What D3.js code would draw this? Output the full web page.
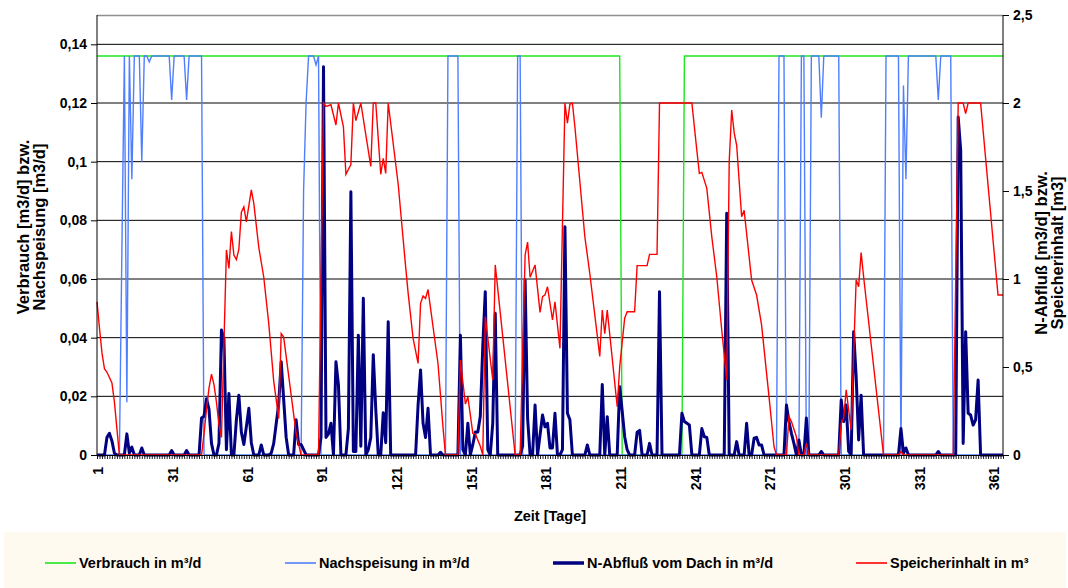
<!DOCTYPE html>
<html>
<head>
<meta charset="utf-8">
<script src="https://cdn.jsdelivr.net/npm/d3@7"></script>
<style>
  html, body { margin: 0; padding: 0; background: #ffffff; }
  svg { display: block; font-family: "Liberation Sans", Arial, sans-serif; font-weight: bold; }
</style>
</head>
<body>
<svg id="chart" width="1068" height="588"></svg>
<script>
// ---------- data: [day, value] vertices ----------
const dayCount = 365;
const labelDays = [1, 31, 61, 91, 121, 151, 181, 211, 241, 271, 301, 331, 361];
const leftTicks = [0, 0.02, 0.04, 0.06, 0.08, 0.1, 0.12, 0.14];
const rightTicks = [0, 0.5, 1, 1.5, 2, 2.5];

// Verbrauch in m³/d (left axis)
const verbrauch = [[1,0.136],[211,0.136],[212,0],[236,0],[237,0.136],[365,0.136]];

// Nachspeisung in m³/d (left axis)
const nachspeisung = [[1,0],[10,0],[11,0.07],[12,0.136],[13,0.018],[14,0.136],[15,0.094],[16,0.136],[18,0.136],[19,0.1],[20,0.136],[21,0.136],[22,0.134],[23,0.136],[30,0.136],[31,0.121],[32,0.136],[36,0.136],[37,0.121],[38,0.136],[43,0.136],[44,0],
  [83,0],[84,0.09],[85,0.12],[86,0.136],[88,0.136],[89,0.133],[90,0.136],[91,0],
  [141,0],[142,0.136],[146,0.136],[147,0],[169,0],[170,0.136],[171,0.136],[172,0],
  [274,0],[275,0.136],[277,0.136],[278,0],[283,0],[284,0.136],[285,0.136],[286,0],[287,0],[288,0.136],[291,0.136],[292,0.115],[293,0.136],[299,0.136],[300,0],
  [317,0],[318,0.136],[323,0.136],[324,0],[325,0.126],[326,0.094],[327,0.136],[338,0.136],[339,0.121],[340,0.136],[344,0.136],[345,0],[365,0]];

// N-Abfluß vom Dach in m³/d (right axis)
const abfluss = [[1,0],[4,0],[5,0.1],[6,0.123],[7,0.08],[8,0.01],[9,0],[12,0],[13,0.12],[14,0.01],[15,0.045],[16,0],[18,0],[19,0.04],[20,0],[30,0],[31,0.025],[32,0],[36,0],[37,0.025],[38,0],
  [42,0],[43,0.21],[44,0.22],[45,0.32],[46,0.26],[47,0.066],[48,0],[49,0],[50,0.066],[51,0.71],[52,0.66],[53,0.03],[54,0.35],[55,0],[56,0],[57,0.2],[58,0.34],[59,0.13],[60,0.06],[61,0.16],[62,0.265],[63,0.07],[64,0],[66,0],[67,0.057],[68,0],[70,0],[71,0.01],[72,0.066],[74,0.29],[75,0.53],[77,0.1],[78,0],[80,0],[81,0.2],[82,0.06],[83,0.06],[84,0.03],[85,0],
  [90,0],[91,0.1],[92,2.206],[93,0.1],[94,0.12],[95,0.18],[96,0],[97,0.53],[98,0.4],[99,0],[101,0],[102,0.15],[103,1.496],[104,0.02],[105,0.02],[106,0.68],[107,0.05],[108,0.89],[109,0],[110,0.03],[111,0.1],[112,0.57],[113,0.26],[114,0],[115,0],[116,0.24],[117,0.07],[118,0.757],[119,0],
  [129,0],[130,0.284],[131,0.483],[132,0.18],[133,0.1],[134,0.265],[135,0],[138,0],[139,0.015],[140,0],
  [146,0],[147,0.68],[148,0.03],[149,0],[150,0.18],[151,0],[152,0.06],[153,0.13],[154,0.13],[155,0.22],[156,0.62],[157,0.928],[158,0.03],[159,0],[160,0.18],[161,0.805],[162,0],
  [171,0],[172,0.05],[173,0.994],[174,0.21],[175,0],[176,0],[177,0.284],[178,0],[180,0.227],[181,0.16],[182,0.18],[183,0.04],[184,0.04],[185,0.237],[186,0],[187,0],[188,0.03],[189,1.297],[190,0.237],[191,0.2],[192,0],
  [197,0],[198,0.057],[199,0],[203,0],[204,0.4],[205,0],[206,0.218],[207,0],[210,0],[211,0.388],[212,0.25],[213,0.104],[214,0.03],[215,0],[217,0],[218,0.13],[219,0.14],[220,0],[222,0],[223,0.066],[224,0],[226,0],[227,0.928],[228,0],
  [235,0],[236,0.237],[237,0.19],[238,0.18],[239,0.17],[240,0],[243,0],[244,0.15],[245,0.104],[246,0.1],[247,0],[253,0],[254,1.373],[255,0],[257,0],[258,0.076],[259,0],[261,0],[262,0.18],[263,0],[264,0],[265,0.095],[266,0.1],[267,0.057],[268,0.057],[269,0],
  [277,0],[278,0.284],[279,0.19],[280,0.123],[281,0.066],[282,0],[283,0.085],[284,0],[285,0],[286,0.21],[287,0],[291,0],[292,0.02],[293,0],
  [299,0],[300,0.3125],[301,0.19],[302,0.284],[303,0.02],[304,0],[305,0.7],[306,0.445],[307,0.085],[308,0.34],[309,0],
  [323,0],[324,0.15],[325,0.01],[326,0.04],[327,0],[338,0],[339,0.02],[340,0],
  [346,0],[347,1.92],[348,1.733],[349,0.066],[350,0.7],[351,0.237],[352,0.227],[353,0.17],[354,0.2],[355,0.426],[356,0],[365,0]];

// Speicherinhalt in m³ (right axis)
const speicher = [[1,0.87],[2,0.72],[3,0.58],[4,0.49],[5,0.47],[6,0.44],[7,0.41],[8,0.3],[9,0.15],[10,0],[43,0],[44,0.12],[45,0.26],[46,0.38],[47,0.46],[48,0.4],[49,0.3],[50,0.17],[51,0.1],
  [53,1.165],[54,1.06],[55,1.27],[56,1.136],[57,1.11],[58,1.17],[59,1.38],[60,1.41],[61,1.325],[63,1.506],[64,1.43],[66,1.18],[68,1.01],[70,0.748],[72,0.42],[74,0.208],[75,0.69],[76,0.67],[81,0.123],[83,0],
  [90,0],[91,1.0],[92,2.0],[93,1.98],[95,1.99],[97,1.875],[98,2.0],[100,1.865],[101,1.595],[103,1.65],[104,2.0],[105,1.9],[107,2.0],[111,1.64],[112,2.0],[113,2.0],[115,1.595],[116,1.686],[117,1.6],[118,2.0],
  [122,1.54],[125,1.07],[126,0.92],[128,0.663],[130,0.52],[131,0.862],[132,0.903],[133,0.89],[134,0.94],[138,0.52],[140,0.16],[141,0],
  [146,0],[147,0.54],[149,0.29],[150,0.33],[152,0.123],[153,0.12],[155,0.05],[156,0],[157,0.786],[160,0.426],[161,1.08],[169,0],[171,0],
  [173,1.136],[174,1.21],[175,1.01],[177,1.08],[179,0.81],[180,0.9],[181,0.91],[182,0.956],[184,0.767],[185,0.87],[187,0.606],[189,2.0],[190,1.885],[191,1.994],[192,2.0],[193,1.865],
  [197,1.24],[199,1.03],[203,0.56],[204,0.824],[205,0.69],[206,0.824],[210,0.275],[211,0.5],[213,0.777],[214,0.814],[217,0.814],[218,1.076],[222,1.076],[223,1.14],[226,1.14],[227,2.0],[240,2.0],
  [242,1.73],[243,1.6],[244,1.606],[246,1.515],[248,1.24],[250,1.013],[252,0.71],[254,0.426],[255,1.666],[256,1.96],[257,1.83],[258,1.76],[260,1.354],[261,1.39],[264,0.994],[266,0.909],[268,0.739],[271,0.33],[273,0.047],[274,0],
  [278,0],[279,0.218],[280,0.19],[282,0.104],[283,0],[285,0],[286,0.066],[287,0],[299,0],[300,0.18],[301,0.21],[302,0.37],[304,0.142],[305,0.578],[306,0.994],[307,0.956],[308,1.15],[309,1.013],[317,0],
  [323,0],[324,0.02],[325,0],[345,0],[347,2.0],[349,2.0],[350,1.94],[351,2.0],[356,2.0],[363,0.909],[365,0.909]];

const seriesNames = ["Verbrauch in m³/d", "Nachspeisung in m³/d", "N-Abfluß vom Dach in m³/d", "Speicherinhalt in m³"];

// ---------- drawing ----------
const svg = d3.select("#chart");
const W = 1068, H = 588;
const plot = {left: 97, right: 1003, top: 15, bottom: 455};

svg.append("rect").attr("width", W).attr("height", H).attr("fill", "#ffffff");

const x = d3.scaleLinear().domain([1, dayCount]).range([plot.left, plot.right]);
const yL = d3.scaleLinear().domain([0, 0.15]).range([plot.bottom, plot.top]);
const yR = d3.scaleLinear().domain([0, 2.5]).range([plot.bottom, plot.top]);

const loc = d3.formatLocale({decimal: ",", thousands: ".", grouping: [3], currency: ["", "€"]});
const fmt = loc.format("~g");

// gridlines
svg.append("g").selectAll("line").data(leftTicks.filter(d => d > 0)).join("line")
  .attr("x1", plot.left).attr("x2", plot.right)
  .attr("y1", d => yL(d)).attr("y2", d => yL(d))
  .attr("stroke", "#000").attr("stroke-width", 1);

// plot border (top)
svg.append("line").attr("x1", plot.left).attr("x2", plot.right)
  .attr("y1", plot.top + 0.5).attr("y2", plot.top + 0.5)
  .attr("stroke", "#909090").attr("stroke-width", 1.5);

// series
const lineL = d3.line().x(d => x(d[0])).y(d => yL(d[1]));
const lineR = d3.line().x(d => x(d[0])).y(d => yR(d[1]));

svg.append("path").datum(verbrauch).attr("d", lineL)
  .attr("fill", "none").attr("stroke", "#1ee61e").attr("stroke-width", 1.4);
svg.append("path").datum(nachspeisung).attr("d", lineL)
  .attr("fill", "none").attr("stroke", "#4f7fff").attr("stroke-width", 1.4);
svg.append("path").datum(abfluss).attr("d", lineR)
  .attr("fill", "none").attr("stroke", "#000080").attr("stroke-width", 3).attr("stroke-linejoin", "round");
svg.append("path").datum(speicher).attr("d", lineR)
  .attr("fill", "none").attr("stroke", "#ff0000").attr("stroke-width", 1.4);

// axes
const axL = svg.append("g").attr("transform", `translate(${plot.left},0)`)
  .call(d3.axisLeft(yL).tickValues(leftTicks).tickSize(6).tickSizeOuter(0).tickPadding(4).tickFormat(fmt));
const axR = svg.append("g").attr("transform", `translate(${plot.right},0)`)
  .call(d3.axisRight(yR).tickValues(rightTicks).tickSize(6).tickSizeOuter(0).tickPadding(4).tickFormat(fmt));
const axB = svg.append("g").attr("transform", `translate(0,${plot.bottom})`)
  .call(d3.axisBottom(x).tickValues(d3.range(1, dayCount + 1)).tickSize(4).tickSizeOuter(0).tickFormat(""));

[axL, axR, axB].forEach(a => {
  a.select(".domain").attr("stroke", "#000").attr("stroke-width", 1);
  a.selectAll(".tick line").attr("stroke", "#000");
  a.selectAll("text").attr("font-size", 14).attr("font-weight", "bold").attr("fill", "#000")
    .attr("font-family", '"Liberation Sans", Arial, sans-serif');
});
axB.selectAll(".tick line").attr("stroke-width", 0.9);
axL.select(".domain").attr("d", `M0,${plot.top}V${plot.bottom}`);
axR.select(".domain").attr("d", `M0,${plot.top}V${plot.bottom}`);

// x tick labels (rotated)
svg.append("g").selectAll("text").data(labelDays).join("text")
  .attr("transform", d => `translate(${x(d) + 6.4},467) rotate(-90)`)
  .attr("text-anchor", "end").attr("font-size", 14).attr("fill", "#000")
  .text(d => d);

// axis titles
svg.append("text").attr("x", 550).attr("y", 521).attr("text-anchor", "middle")
  .attr("font-size", 14.5).text("Zeit [Tage]");

const leftTitle = svg.append("g").attr("transform", "translate(0,227)");
leftTitle.append("text").attr("transform", "translate(29,0) rotate(-90)").attr("text-anchor", "middle")
  .attr("font-size", 16.5).text("Verbrauch [m3/d] bzw.");
leftTitle.append("text").attr("transform", "translate(45,0) rotate(-90)").attr("text-anchor", "middle")
  .attr("font-size", 16.5).text("Nachspeisung [m3/d]");

const rightTitle = svg.append("g").attr("transform", "translate(0,253)");
rightTitle.append("text").attr("transform", "translate(1047,0) rotate(-90)").attr("text-anchor", "middle")
  .attr("font-size", 16.5).text("N-Abfluß [m3/d] bzw.");
rightTitle.append("text").attr("transform", "translate(1063,0) rotate(-90)").attr("text-anchor", "middle")
  .attr("font-size", 16.5).text("Speicherinhalt [m3]");

// legend
svg.append("rect").attr("x", 4).attr("y", 532).attr("width", 1062).attr("height", 56).attr("fill", "#fffaf0");
const legendColors = ["#1ee61e", "#4f7fff", "#000080", "#ff0000"];
const legendWidths = [1.6, 1.6, 3.5, 1.6];
const legendX = [45, 285, 553, 856];
const lg = svg.append("g").selectAll("g").data(seriesNames).join("g")
  .attr("transform", (d, i) => `translate(${legendX[i]},563)`);
lg.append("line").attr("x1", 0).attr("x2", 31).attr("y1", 0).attr("y2", 0)
  .attr("stroke", (d, i) => legendColors[i]).attr("stroke-width", (d, i) => legendWidths[i]);
lg.append("text").attr("x", 34).attr("y", 5.2).attr("font-size", 14.5).attr("fill", "#000").text(d => d);
</script>
</body>
</html>
